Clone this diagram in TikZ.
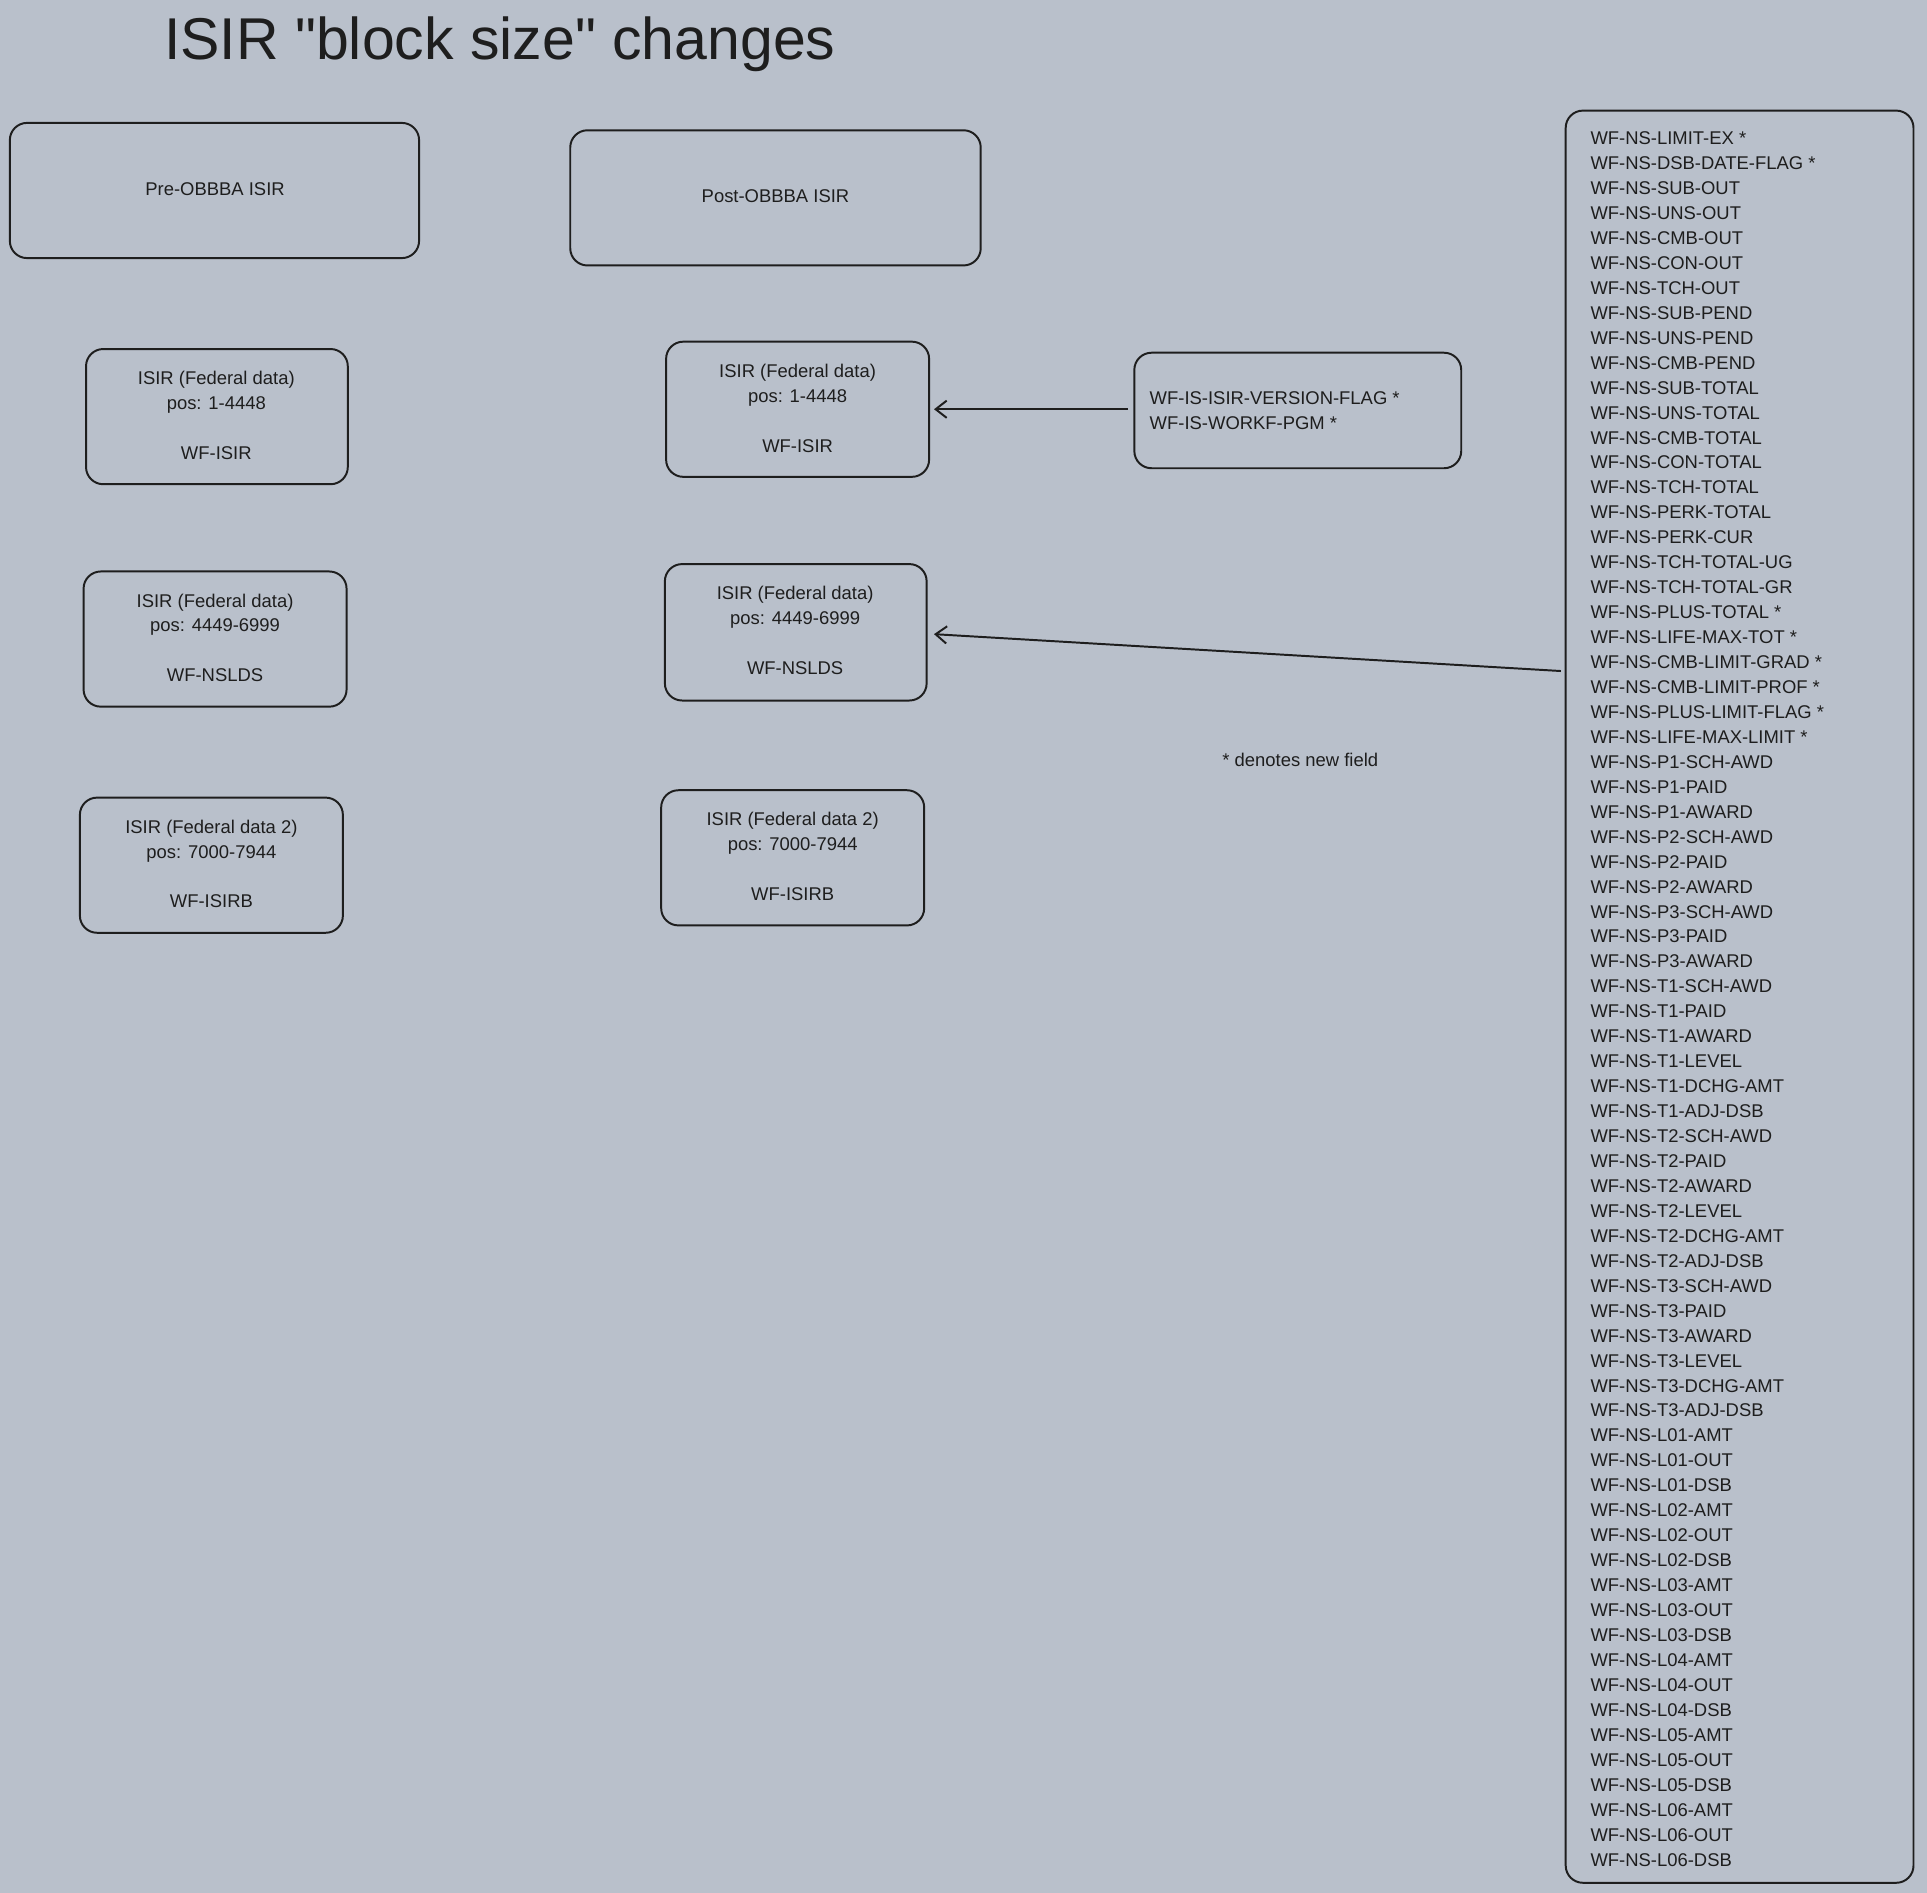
\documentclass[tikz,border=0pt]{standalone}
\usepackage{fontspec}
\setmainfont{Liberation Sans}
\newfontfamily\titlefont[Ligatures=TeXOff]{Liberation Sans}
\usetikzlibrary{arrows.meta}
\definecolor{bg}{HTML}{B9C0CB}
\definecolor{ink}{HTML}{1E1E1E}
\begin{document}
\begin{tikzpicture}[x=1pt,y=-1pt,
  box/.style={draw=ink,line width=1.6pt,rounded corners=14pt},
  lbl/.style={text=ink,font=\fontsize{15}{20.3}\selectfont,align=center},
  conn/.style={draw=ink,line width=1.6pt,-{Straight Barb[length=9pt,width=14pt]}}]
\fill[bg] (0,0) rectangle (1568,1540);
\useasboundingbox (0,0) rectangle (1568,1540);
\node[text=ink,font=\titlefont\fontsize{48}{54}\selectfont,anchor=west] (title) at (130,36) {ISIR "block size" changes};
\draw[box] (8,100) rectangle (341,210); \node[lbl] (pre) at (175,154) {Pre-OBBBA ISIR};
\draw[box] (464,106) rectangle (798,216); \node[lbl] (post) at (631,160) {Post-OBBBA ISIR};
\draw[box] (70,284) rectangle (283,394); \node[lbl] (l1) at (176,338) {ISIR (Federal data)\\pos: 1-4448\\[20.3pt]WF-ISIR};
\draw[box] (68,465) rectangle (282,575); \node[lbl] (l2) at (175,519) {ISIR (Federal data)\\pos: 4449-6999\\[20.3pt]WF-NSLDS};
\draw[box] (65,649) rectangle (279,759); \node[lbl] (l3) at (172,703) {ISIR (Federal data 2)\\pos: 7000-7944\\[20.3pt]WF-ISIRB};
\draw[box] (542,278) rectangle (756,388); \node[lbl] (r1) at (649,332) {ISIR (Federal data)\\pos: 1-4448\\[20.3pt]WF-ISIR};
\draw[box] (541,459) rectangle (754,570); \node[lbl] (r2) at (647,513) {ISIR (Federal data)\\pos: 4449-6999\\[20.3pt]WF-NSLDS};
\draw[box] (538,643) rectangle (752,753); \node[lbl] (r3) at (645,697) {ISIR (Federal data 2)\\pos: 7000-7944\\[20.3pt]WF-ISIRB};
\draw[box] (923,287) rectangle (1189,381);
\node[lbl,align=left,anchor=west] (v) at (932,334) {WF-IS-ISIR-VERSION-FLAG *\\WF-IS-WORKF-PGM *};
\coordinate (r1e) at (760,333); \coordinate (ve) at (918,333);
\draw[conn] (ve) -- (r1e);
\node[lbl] (note) at (1058,618) {* denotes new field};
\draw[box] (1274,90) rectangle (1557,1532);
\node[lbl,align=left,anchor=north west,inner sep=0pt] (list) at (1294,107) {WF-NS-LIMIT-EX *\\WF-NS-DSB-DATE-FLAG *\\WF-NS-SUB-OUT\\WF-NS-UNS-OUT\\WF-NS-CMB-OUT\\WF-NS-CON-OUT\\WF-NS-TCH-OUT\\WF-NS-SUB-PEND\\WF-NS-UNS-PEND\\WF-NS-CMB-PEND\\WF-NS-SUB-TOTAL\\WF-NS-UNS-TOTAL\\WF-NS-CMB-TOTAL\\WF-NS-CON-TOTAL\\WF-NS-TCH-TOTAL\\WF-NS-PERK-TOTAL\\WF-NS-PERK-CUR\\WF-NS-TCH-TOTAL-UG\\WF-NS-TCH-TOTAL-GR\\WF-NS-PLUS-TOTAL *\\WF-NS-LIFE-MAX-TOT *\\WF-NS-CMB-LIMIT-GRAD *\\WF-NS-CMB-LIMIT-PROF *\\WF-NS-PLUS-LIMIT-FLAG *\\WF-NS-LIFE-MAX-LIMIT *\\WF-NS-P1-SCH-AWD\\WF-NS-P1-PAID\\WF-NS-P1-AWARD\\WF-NS-P2-SCH-AWD\\WF-NS-P2-PAID\\WF-NS-P2-AWARD\\WF-NS-P3-SCH-AWD\\WF-NS-P3-PAID\\WF-NS-P3-AWARD\\WF-NS-T1-SCH-AWD\\WF-NS-T1-PAID\\WF-NS-T1-AWARD\\WF-NS-T1-LEVEL\\WF-NS-T1-DCHG-AMT\\WF-NS-T1-ADJ-DSB\\WF-NS-T2-SCH-AWD\\WF-NS-T2-PAID\\WF-NS-T2-AWARD\\WF-NS-T2-LEVEL\\WF-NS-T2-DCHG-AMT\\WF-NS-T2-ADJ-DSB\\WF-NS-T3-SCH-AWD\\WF-NS-T3-PAID\\WF-NS-T3-AWARD\\WF-NS-T3-LEVEL\\WF-NS-T3-DCHG-AMT\\WF-NS-T3-ADJ-DSB\\WF-NS-L01-AMT\\WF-NS-L01-OUT\\WF-NS-L01-DSB\\WF-NS-L02-AMT\\WF-NS-L02-OUT\\WF-NS-L02-DSB\\WF-NS-L03-AMT\\WF-NS-L03-OUT\\WF-NS-L03-DSB\\WF-NS-L04-AMT\\WF-NS-L04-OUT\\WF-NS-L04-DSB\\WF-NS-L05-AMT\\WF-NS-L05-OUT\\WF-NS-L05-DSB\\WF-NS-L06-AMT\\WF-NS-L06-OUT\\WF-NS-L06-DSB};
\coordinate (le) at (1270,546); \coordinate (r2e) at (760,516);
\draw[conn] (le) -- (r2e);
\end{tikzpicture}
\end{document}
